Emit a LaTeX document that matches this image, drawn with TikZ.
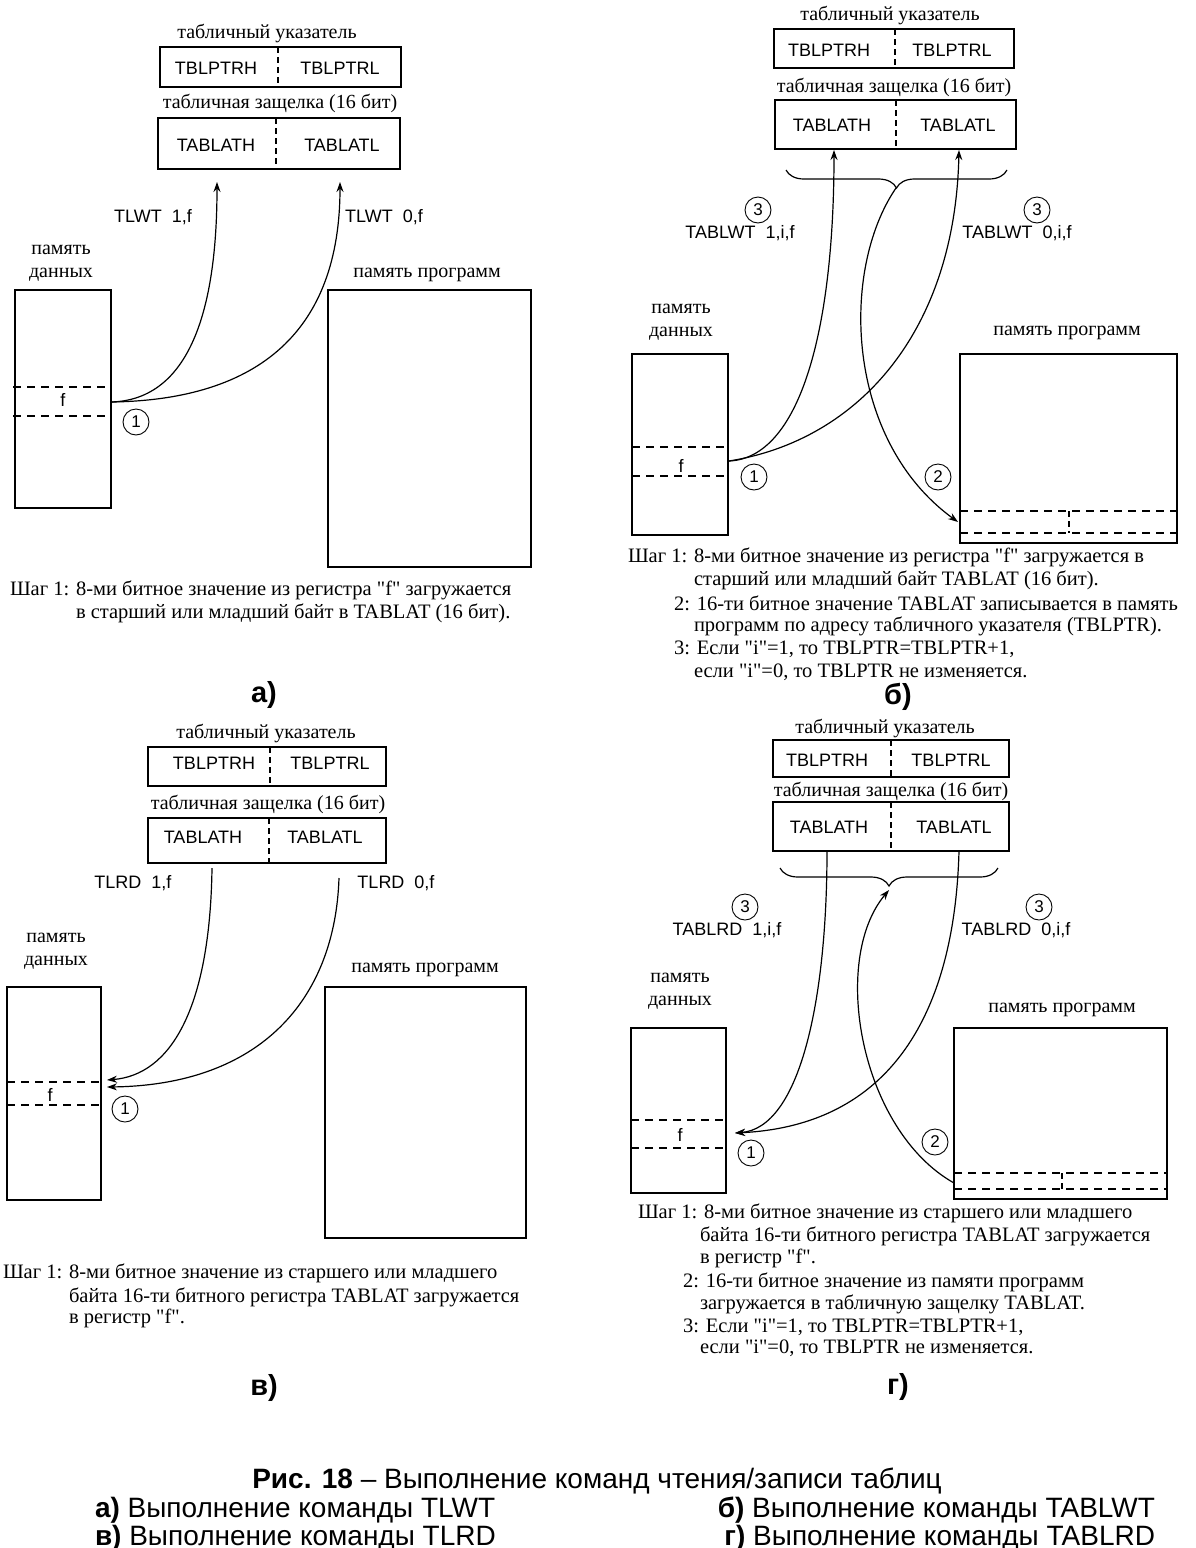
\documentclass[tikz,border=0pt]{standalone}
\usepackage{fontspec}
\setmainfont{Liberation Serif}[Ligatures=TeXOff]
\newfontfamily\sansf{Liberation Sans}
\usetikzlibrary{arrows.meta,decorations.pathreplacing,fit}
\newcommand\rbox[5]{\node[box, fit={(#2,#3) (#4,#5)}] (#1) {};}
\begin{document}
\begin{tikzpicture}[x=1pt,y=-1pt,
  every node/.style={inner sep=0pt,outer sep=0pt},
  box/.style={draw,line width=1.3pt,inner sep=0pt},
  lbl/.style={font=\fontsize{20}{23}\selectfont},
  lblc/.style={font=\fontsize{20}{23}\selectfont, align=center},
  reg/.style={font=\sansf\fontsize{18}{20}\selectfont},
  stp/.style={font=\fontsize{20.5}{23}\selectfont, anchor=west},
  circ/.style={draw,circle,line width=0.9pt,minimum size=26pt,font=\sansf\fontsize{17}{19}\selectfont},
  con/.style={line width=1.2pt},
  arr/.style={con,-{Stealth[length=10pt,width=7pt]}},
  dsh/.style={line width=1.2pt,dash pattern=on 8pt off 6pt},
  dshb/.style={line width=2.2pt,dash pattern=on 8pt off 6pt},
  divl/.style={line width=2.2pt,dash pattern=on 6pt off 4pt},
  divt/.style={line width=1.2pt,dash pattern=on 6pt off 4pt},
  brc/.style={line width=1.2pt,decorate,decoration={brace,mirror,amplitude=18pt}},
  plet/.style={font=\sansf\bfseries\fontsize{29}{32}\selectfont},
  captxt/.style={font=\sansf\fontsize{28}{30}\selectfont, text height=20pt, text depth=4pt}
]
\useasboundingbox (0,0) rectangle (1195,1548);

% ===================== panel a =====================
\node[lbl] (aPt) at (267,33) {табличный указатель};
\rbox{aP}{160}{47}{401}{87}
\draw[divl] (278,47) -- (278,87);
\node[reg] (aPH) at (216,68) {TBLPTRH};
\node[reg] (aPL) at (340,68) {TBLPTRL};
\node[lbl] (aLt) at (280,103) {табличная защелка (16 бит)};
\rbox{aL}{158}{118}{400}{169}
\draw[divl] (276,118) -- (276,169);
\node[reg] (aLH) at (216,145) {TABLATH};
\node[reg] (aLL) at (342,145) {TABLATL};
\coordinate (aT1) at (217,182);
\coordinate (aT2) at (340,182);
\node[reg] (aC1) at (153,217) {TLWT\ \ 1,f};
\node[reg] (aC2) at (384,217) {TLWT\ \ 0,f};
\node[lblc] (aDt) at (61,263) {память\\данных};
\rbox{aD}{15}{290}{111}{508}
\draw[dsh] (13,387) -- (111,387);
\draw[dsh] (13,416) -- (111,416);
\node[reg] (af) at (63,400) {f};
\coordinate (aS) at (111,402);
\node[circ] (a1) at (136,422) {1};
\node[lbl] (aMt) at (427,275) {память программ};
\rbox{aM}{328}{290}{531}{567}
\draw[arr] (aS) .. controls (185,400) and (217,320) .. (aT1);
\draw[arr] (aS) .. controls (260,400) and (340,330) .. (aT2);
\node[stp] (aS1) at (10,590) {Шаг 1: 8-ми битное значение из регистра "f" загружается};
\node[stp] (aS2) at (76,613) {в старший или младший байт в TABLAT (16 бит).};
\node[plet] (aLet) at (264,695) {а)};

% ===================== panel b =====================
\node[lbl] (bPt) at (890,15) {табличный указатель};
\rbox{bP}{774}{29}{1014}{68}
\draw[divl] (895,29) -- (895,68);
\node[reg] (bPH) at (829,50) {TBLPTRH};
\node[reg] (bPL) at (952,50) {TBLPTRL};
\node[lbl] (bLt) at (894,87) {табличная защелка (16 бит)};
\rbox{bL}{775}{100}{1016}{149}
\draw[divl] (896,100) -- (896,149);
\node[reg] (bLH) at (832,125) {TABLATH};
\node[reg] (bLL) at (958,125) {TABLATL};
\draw[brc] (786,170) -- (1007,170);
\coordinate (bB) at (896,188);
\coordinate (bT1) at (834,150);
\coordinate (bT2) at (959,150);
\node[circ] (b3a) at (758,210) {3};
\node[circ] (b3b) at (1037,210) {3};
\node[reg] (bC1) at (740,233) {TABLWT\ \ 1,i,f};
\node[reg] (bC2) at (1017,233) {TABLWT\ \ 0,i,f};
\node[lblc] (bDt) at (681,322) {память\\данных};
\rbox{bD}{632}{354}{728}{535}
\draw[dsh] (632,447) -- (728,447);
\draw[dsh] (632,476) -- (728,476);
\node[reg] (bf) at (681,466) {f};
\coordinate (bS) at (729,461);
\node[circ] (b1) at (754,477) {1};
\node[lbl] (bMt) at (1067,333) {память программ};
\rbox{bM}{960}{354}{1177}{543}
\draw[dsh] (960,511) -- (1177,511);
\draw[dsh] (960,533) -- (1177,533);
\draw[divt] (1069,511) -- (1069,533);
\coordinate (bE) at (958,522);
\node[circ] (b2) at (938,477) {2};
\draw[arr] (bS) .. controls (800,458) and (834,330) .. (bT1);
\draw[arr] (bS) .. controls (860,440) and (955,330) .. (bT2);
\draw[arr] (bB) .. controls (840,270) and (845,440) .. (bE);
\node[stp] (bS1) at (628,557) {Шаг 1: 8-ми битное значение из регистра "f" загружается в};
\node[stp] (bS2) at (694,580) {старший или младший байт TABLAT (16 бит).};
\node[stp] (bS3) at (674,603) {2: 16-ти битное значение TABLAT записывается в память};
\node[stp] (bS4) at (694,626) {программ по адресу табличного указателя (TBLPTR).};
\node[stp] (bS5) at (674,649) {3: Если "i"=1, то TBLPTR=TBLPTR+1,};
\node[stp] (bS6) at (694,672) {если "i"=0, то TBLPTR не изменяется.};
\node[plet] (bLet) at (898,697) {б)};

% ===================== panel c =====================
\node[lbl] (cPt) at (266,733) {табличный указатель};
\rbox{cP}{148}{747}{386}{786}
\draw[divt] (270,747) -- (270,786);
\node[reg] (cPH) at (214,763) {TBLPTRH};
\node[reg] (cPL) at (330,763) {TBLPTRL};
\node[lbl] (cLt) at (268,804) {табличная защелка (16 бит)};
\rbox{cL}{148}{818}{386}{863}
\draw[divl] (269,818) -- (269,863);
\node[reg] (cLH) at (203,837) {TABLATH};
\node[reg] (cLL) at (325,837) {TABLATL};
\node[reg] (cC1) at (133,883) {TLRD\ \ 1,f};
\node[reg] (cC2) at (396,883) {TLRD\ \ 0,f};
\coordinate (cS1) at (212,868);
\coordinate (cS2) at (339,878);
\coordinate (cE1) at (107,1080);
\coordinate (cE2) at (107,1087);
\node[lblc] (cDt) at (56,951) {память\\данных};
\rbox{cD}{7}{987}{101}{1200}
\draw[dsh] (7,1082) -- (101,1082);
\draw[dsh] (7,1105) -- (101,1105);
\node[reg] (cf) at (50,1095) {f};
\node[circ] (c1) at (125,1109) {1};
\node[lbl] (cMt) at (425,970) {память программ};
\rbox{cM}{325}{987}{526}{1238}
\draw[arr] (cS1) .. controls (210,1010) and (170,1075) .. (cE1);
\draw[arr] (cS2) .. controls (335,1000) and (260,1085) .. (cE2);
\node[stp] (cS1t) at (3,1273) {Шаг 1: 8-ми битное значение из старшего или младшего};
\node[stp] (cS2t) at (69,1297) {байта 16-ти битного регистра TABLAT загружается};
\node[stp] (cS3t) at (69,1318) {в регистр "f".};
\node[plet] (cLet) at (264,1388) {в)};

% ===================== panel d =====================
\node[lbl] (dPt) at (885,728) {табличный указатель};
\rbox{dP}{773}{740}{1009}{777}
\draw[divt] (891,740) -- (891,777);
\node[reg] (dPH) at (827,760) {TBLPTRH};
\node[reg] (dPL) at (951,760) {TBLPTRL};
\node[lbl] (dLt) at (891,791) {табличная защелка (16 бит)};
\rbox{dL}{773}{802}{1009}{851}
\draw[divt] (891,802) -- (891,851);
\node[reg] (dLH) at (829,827) {TABLATH};
\node[reg] (dLL) at (954,827) {TABLATL};
\draw[brc] (780,868) -- (998,868);
\coordinate (dB) at (889,890);
\coordinate (dS1) at (827,851);
\coordinate (dS2) at (959,851);
\coordinate (dE) at (735,1133);
\node[circ] (d3a) at (745,907) {3};
\node[circ] (d3b) at (1039,907) {3};
\node[reg] (dC1) at (727,930) {TABLRD\ \ 1,i,f};
\node[reg] (dC2) at (1016,930) {TABLRD\ \ 0,i,f};
\node[lblc] (dDt) at (680,991) {память\\данных};
\rbox{dD}{631}{1028}{726}{1193}
\draw[dshb] (631,1120) -- (726,1120);
\draw[dsh] (631,1148) -- (726,1148);
\node[reg] (df) at (680,1135) {f};
\node[circ] (d1) at (751,1153) {1};
\node[lbl] (dMt) at (1062,1010) {память программ};
\rbox{dM}{954}{1028}{1167}{1199}
\draw[dshb] (954,1173) -- (1167,1173);
\draw[dsh] (954,1189) -- (1167,1189);
\draw[divt] (1062,1173) -- (1062,1189);
\coordinate (dR) at (954,1183);
\node[circ] (d2) at (935,1142) {2};
\draw[arr] (dS1) .. controls (827,1000) and (800,1128) .. (dE);
\draw[arr] (dS2) .. controls (955,1000) and (900,1125) .. (dE);
\draw[arr] (dR) .. controls (860,1130) and (830,960) .. (dB);
\node[stp] (dS1t) at (638,1213) {Шаг 1: 8-ми битное значение из старшего или младшего};
\node[stp] (dS2t) at (700,1236) {байта 16-ти битного регистра TABLAT загружается};
\node[stp] (dS3t) at (700,1258) {в регистр "f".};
\node[stp] (dS4t) at (683,1282) {2: 16-ти битное значение из памяти программ};
\node[stp] (dS5t) at (700,1304) {загружается в табличную защелку TABLAT.};
\node[stp] (dS6t) at (683,1327) {3: Если "i"=1, то TBLPTR=TBLPTR+1,};
\node[stp] (dS7t) at (700,1348) {если "i"=0, то TBLPTR не изменяется.};
\node[plet] (dLet) at (898,1387) {г)};

% ===================== caption =====================
\node[captxt] (capT) at (597,1480) {\textbf{Рис. 18} – Выполнение команд чтения/записи таблиц};
\node[captxt,anchor=west] (capA) at (95,1509) {\textbf{а)} Выполнение команды TLWT};
\node[captxt,anchor=east] (capB) at (1155,1509) {\textbf{б)} Выполнение команды TABLWT};
\node[captxt,anchor=west] (capC) at (95,1537) {\textbf{в)} Выполнение команды TLRD};
\node[captxt,anchor=east] (capD) at (1155,1537) {\textbf{г)} Выполнение команды TABLRD};
\end{tikzpicture}
\end{document}
